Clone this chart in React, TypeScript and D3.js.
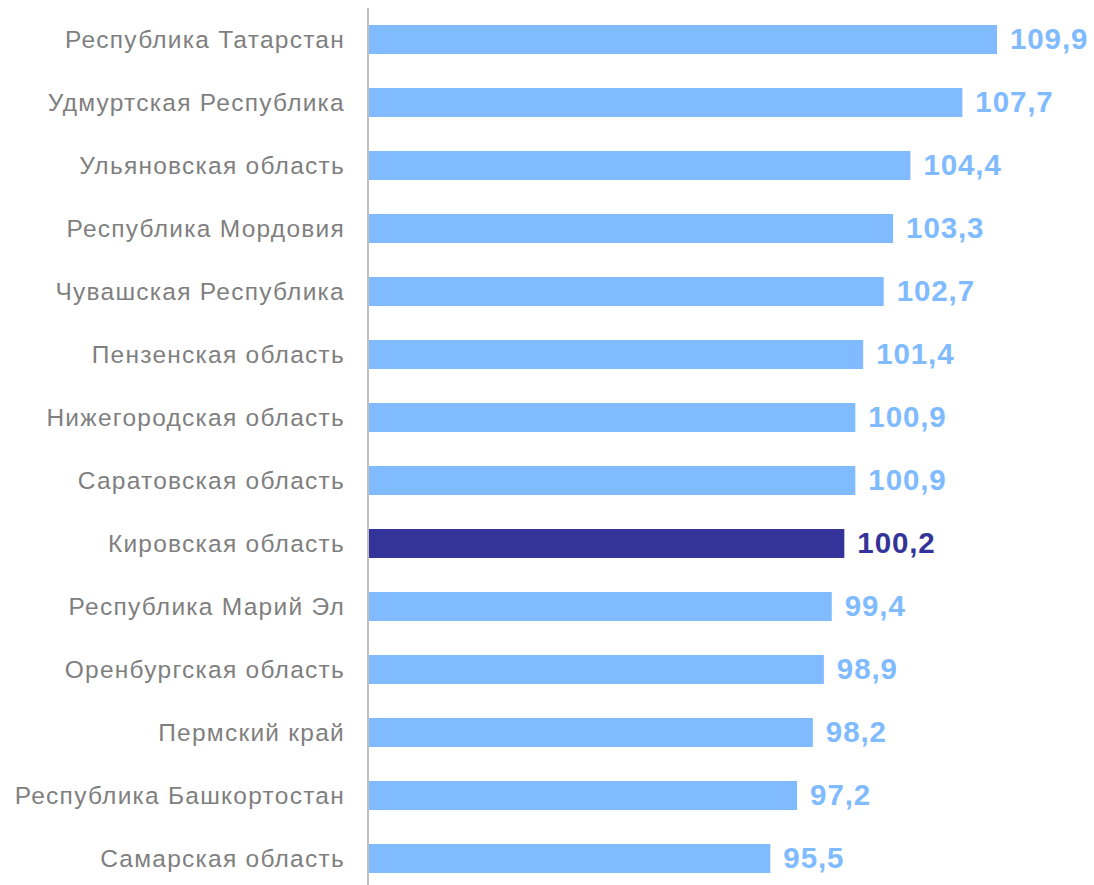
import React from "react";
import * as d3 from "d3";

const regions = [
  "Республика Татарстан",
  "Удмуртская Республика",
  "Ульяновская область",
  "Республика Мордовия",
  "Чувашская Республика",
  "Пензенская область",
  "Нижегородская область",
  "Саратовская область",
  "Кировская область",
  "Республика Марий Эл",
  "Оренбургская область",
  "Пермский край",
  "Республика Башкортостан",
  "Самарская область",
];
const values = [109.9, 107.7, 104.4, 103.3, 102.7, 101.4, 100.9, 100.9, 100.2, 99.4, 98.9, 98.2, 97.2, 95.5];
const highlight = "Кировская область";

const W = 1094;
const H = 885;

export default function App() {
  const x = d3.scaleLinear().domain([70, 109.9]).range([369, 997]);
  const y = d3.scaleBand().domain(regions).range([8, 890]).paddingInner(0.54).paddingOuter(0.27);
  const fmt = (v: number) => v.toFixed(1).replace(".", ",");
  return (
    <svg width={W} height={H} style={{ position: "absolute", left: 0, top: 0 }}>
      <rect width={W} height={H} fill="#fff" />
      {regions.map((r, i) => {
        const v = values[i];
        const yy = y(r)!;
        const bw = y.bandwidth();
        const isH = r === highlight;
        const col = isH ? "#333399" : "#80BBFF";
        return (
          <g key={r}>
            <rect x={x(70)} y={yy} width={x(v) - x(70)} height={bw} fill={col} />
            <text
              x={345}
              y={yy + bw / 2 + 8}
              textAnchor="end"
              fontFamily="'Liberation Sans', Arial, sans-serif"
              fontSize={24.5}
              letterSpacing={1.25}
              fill="#7F7F7F"
            >
              {r}
            </text>
            <text
              x={x(v) + 13}
              y={yy + bw / 2 + 9}
              fontFamily="'Liberation Sans', Arial, sans-serif"
              fontWeight="bold"
              fontSize={29.5}
              letterSpacing={0.9}
              fill={col}
            >
              {fmt(v)}
            </text>
          </g>
        );
      })}
      <line x1={368} x2={368} y1={8} y2={H} stroke="#BFBFBF" strokeWidth={2} />
    </svg>
  );
}
